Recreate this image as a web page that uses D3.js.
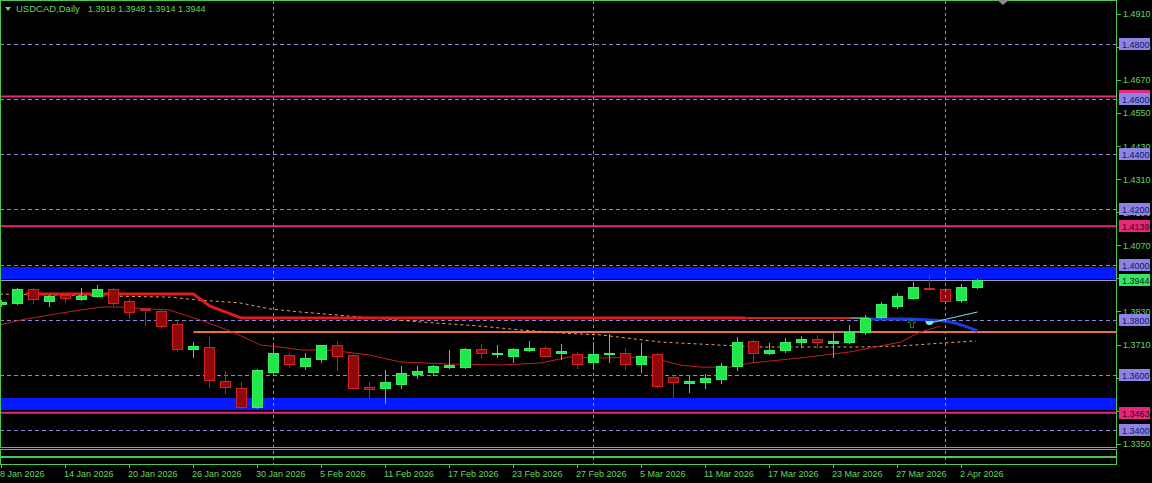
<!DOCTYPE html>
<html><head><meta charset="utf-8">
<script src="https://cdn.jsdelivr.net/npm/d3@7"></script>
<style>html,body{margin:0;padding:0;background:#000;overflow:hidden}</style>
</head><body>
<svg id="c" width="1152" height="483"></svg>
<script>
// ---------------- DATA ----------------
const dates = ["8 Jan 2026","9 Jan 2026","12 Jan 2026","13 Jan 2026","14 Jan 2026","15 Jan 2026","16 Jan 2026",
"19 Jan 2026","20 Jan 2026","21 Jan 2026","22 Jan 2026","23 Jan 2026","26 Jan 2026","27 Jan 2026","28 Jan 2026",
"29 Jan 2026","30 Jan 2026","2 Feb 2026","3 Feb 2026","4 Feb 2026","5 Feb 2026","6 Feb 2026","9 Feb 2026",
"10 Feb 2026","11 Feb 2026","12 Feb 2026","13 Feb 2026","16 Feb 2026","17 Feb 2026","18 Feb 2026","19 Feb 2026",
"20 Feb 2026","23 Feb 2026","24 Feb 2026","25 Feb 2026","26 Feb 2026","27 Feb 2026","2 Mar 2026","3 Mar 2026",
"4 Mar 2026","5 Mar 2026","6 Mar 2026","9 Mar 2026","10 Mar 2026","11 Mar 2026","12 Mar 2026","13 Mar 2026",
"16 Mar 2026","17 Mar 2026","18 Mar 2026","19 Mar 2026","20 Mar 2026","23 Mar 2026","24 Mar 2026","25 Mar 2026",
"26 Mar 2026","27 Mar 2026","30 Mar 2026","31 Mar 2026","1 Apr 2026","2 Apr 2026","3 Apr 2026"];
const opens  = [1.3857,1.3861,1.3911,1.3868,1.3890,1.3875,1.3886,1.3911,1.3868,1.3840,1.3832,1.3784,1.3694,1.3701,1.3578,1.3552,1.3483,1.3610,1.3672,1.3632,1.3657,1.3708,1.3672,1.3557,1.3552,1.3567,1.3603,1.3610,1.3628,1.3628,1.3694,1.3676,1.3668,1.3690,1.3697,1.3681,1.3676,1.3647,1.3677,1.3679,1.3639,1.3676,1.3592,1.3572,1.3574,1.3585,1.3632,1.3723,1.3679,1.3690,1.3719,1.3730,1.3717,1.3719,1.3755,1.3810,1.3850,1.3879,1.3915,1.3911,1.3871,1.3918];
const highs  = [1.3872,1.3914,1.3915,1.3890,1.3893,1.3915,1.3926,1.3915,1.3875,1.3842,1.3839,1.3792,1.3719,1.3737,1.3614,1.3574,1.3621,1.3701,1.3679,1.3679,1.3710,1.3723,1.3676,1.3574,1.3618,1.3632,1.3632,1.3634,1.3690,1.3697,1.3712,1.3708,1.3697,1.3723,1.3705,1.3712,1.3683,1.3719,1.3748,1.3697,1.3716,1.3679,1.3599,1.3596,1.3603,1.3643,1.3737,1.3725,1.3716,1.3734,1.3741,1.3745,1.3752,1.3781,1.3817,1.3864,1.3897,1.3937,1.3962,1.3915,1.3929,1.3948];
const lows   = [1.3850,1.3858,1.3861,1.3850,1.3864,1.3871,1.3882,1.3853,1.3806,1.3781,1.3774,1.3686,1.3665,1.3556,1.3534,1.3478,1.3478,1.3607,1.3628,1.3621,1.3647,1.3618,1.3549,1.3516,1.3498,1.3552,1.3589,1.3599,1.3625,1.3625,1.3661,1.3665,1.3647,1.3686,1.3665,1.3657,1.3625,1.3625,1.3647,1.3621,1.3610,1.3556,1.3520,1.3538,1.3552,1.3570,1.3618,1.3647,1.3677,1.3683,1.3701,1.3697,1.3665,1.3717,1.3748,1.3806,1.3842,1.3875,1.3908,1.3864,1.3864,1.3914];
const closes = [1.3866,1.3911,1.3875,1.3886,1.3879,1.3886,1.3911,1.3861,1.3828,1.3836,1.3777,1.3694,1.3705,1.3581,1.3556,1.3483,1.3618,1.3679,1.3639,1.3661,1.3708,1.3668,1.3552,1.3549,1.3574,1.3607,1.3614,1.3632,1.3636,1.3694,1.3679,1.3679,1.3694,1.3697,1.3668,1.3685,1.3639,1.3676,1.3681,1.3639,1.3668,1.3560,1.3574,1.3576,1.3589,1.3632,1.3719,1.3679,1.3690,1.3719,1.3730,1.3719,1.3721,1.3755,1.3806,1.3857,1.3886,1.3919,1.3910,1.3868,1.3918,1.3944];

const symbolTitle = "USDCAD,Daily";
const priceTicks = [1.4910,1.4790,1.4670,1.4550,1.4430,1.4310,1.4190,1.4070,1.3950,1.3830,1.3710,1.3590,1.3470,1.3350];
const dashedLevels = [1.48,1.46,1.44,1.42,1.40,1.38,1.36,1.34];
const pinkLevels = [1.4610,1.4139,1.3463];
const bandZones = [[1.3992,1.3947],[1.3515,1.3472]];
const bidPrice = 1.3944;
const coralLevel = 1.3755, coralStart = 12;
const monthSeparators = [17,37,59];
const tickEvery = 4;
// indicator lines as [bar index, price]
const thickRedLine = [[1.5,1.3893],[12,1.3893],[13,1.3850],[15,1.3806],[46.5,1.3806]];
const thinRedTail = [[46.5,1.3806],[53,1.3806]];
const whiteSeg = [[53,1.3806],[54.2,1.3806]];
const blueCurve = [[54.3,1.3803],[56.2,1.3803],[58.0,1.3799],[59.3,1.3792],[60.2,1.3777],[61.0,1.3759]];
const cyanLine = [[58.0,1.3788],[61.0,1.3828]];
const dashedMA = [[-0.1,1.3893],[10.5,1.3882],[12.4,1.3871],[14.9,1.3861],[16.8,1.3839],[18.7,1.3828],[22.4,1.3810],[26.2,1.3792],[29.9,1.3777],[32.4,1.3763],[34.9,1.3752],[37.4,1.3745],[41.2,1.3719],[44.9,1.3708],[47.4,1.3701],[53.7,1.3701],[56.2,1.3705],[59.0,1.3716],[60.9,1.3723]];
const thinRedMA = [[-0.1,1.3781],[1.2,1.3799],[3.7,1.3824],[6.2,1.3846],[7.4,1.3846],[10.5,1.3835],[12.4,1.3799],[14.3,1.3759],[16.2,1.3708],[17.4,1.3701],[18.7,1.3690],[20.5,1.3690],[23.0,1.3672],[24.9,1.3647],[28.0,1.3639],[31.2,1.3636],[33.7,1.3643],[35.5,1.3665],[37.4,1.3661],[40.5,1.3665],[42.4,1.3636],[43.7,1.3628],[45.5,1.3628],[46.8,1.3643],[49.9,1.3661],[53.0,1.3683],[56.2,1.3719],[57.4,1.3755],[58.7,1.3777]];
const arrowMark = [56.9,1.3786];
const dotMark = [58.0,1.3795];

// ---------------- DRAW ----------------
const W=1152, H=483, plotR=1116, plotB=447;
const FR='#4cc94c', TXT='#62d862', FONT='"Liberation Sans", Arial, sans-serif';
const x = d3.scaleLinear().domain([0,61]).range([1.5,977.5]);
const y = d3.scaleLinear().domain([1.48,1.34]).range([44,430]);
const svg = d3.select('#c');
svg.append('rect').attr('width',W).attr('height',H).attr('fill','#000');
svg.append('defs').append('clipPath').attr('id','clip').append('rect')
  .attr('x',1).attr('y',1).attr('width',plotR-1).attr('height',plotB-1);
const g = svg.append('g').attr('clip-path','url(#clip)');
const py = v => Math.round(y(v))+0.5;

// bands
g.selectAll('.band').data(bandZones).enter().append('rect')
  .attr('x',0).attr('width',plotR)
  .attr('y',d=>y(d[0])).attr('height',d=>y(d[1])-y(d[0]))
  .attr('fill','#0519ff').attr('shape-rendering','crispEdges');

// dashed lavender levels
g.selectAll('.lvl').data(dashedLevels).enter().append('line')
  .attr('x1',0).attr('x2',plotR).attr('y1',py).attr('y2',py)
  .attr('stroke','#8a86dc').attr('stroke-dasharray','4,3').attr('shape-rendering','crispEdges');

// pink levels
g.selectAll('.pink').data(pinkLevels).enter().append('line')
  .attr('x1',0).attr('x2',plotR).attr('y1',d=>y(d)).attr('y2',d=>y(d))
  .attr('stroke','#e6287a').attr('stroke-width',2);

// bid line
g.append('line').attr('x1',0).attr('x2',plotR).attr('y1',py(bidPrice)).attr('y2',py(bidPrice))
  .attr('stroke','#9a9ab8').attr('shape-rendering','crispEdges');

// coral level
g.append('line').attr('x1',x(coralStart)).attr('x2',plotR).attr('y1',y(coralLevel)).attr('y2',y(coralLevel))
  .attr('stroke','#e8704e').attr('stroke-width',2);

// month separators
svg.selectAll('.sep').data(monthSeparators).enter().append('line')
  .attr('x1',d=>x(d)).attr('x2',d=>x(d)).attr('y1',1).attr('y2',464)
  .attr('stroke',FR).attr('stroke-dasharray','3,3').attr('shape-rendering','crispEdges');

const line = d3.line().x(d=>x(d[0])).y(d=>y(d[1]));
g.append('path').attr('d',line(dashedMA)).attr('fill','none').attr('stroke','#f0a060').attr('stroke-dasharray','3,3');
g.append('path').attr('d',line(thinRedMA)).attr('fill','none').attr('stroke','#c42020').attr('stroke-width',1);
g.append('path').attr('d',line(thickRedLine)).attr('fill','none').attr('stroke','#e01c1c').attr('stroke-width',3);
g.append('path').attr('d',line(thinRedTail)).attr('fill','none').attr('stroke','#e01c1c').attr('stroke-width',2);
g.append('path').attr('d',line(whiteSeg)).attr('fill','none').attr('stroke','#f0f0f0').attr('stroke-width',1);
g.append('path').attr('d',d3.line().curve(d3.curveMonotoneX).x(d=>x(d[0])).y(d=>y(d[1]))(blueCurve))
  .attr('fill','none').attr('stroke','#1c3ce0').attr('stroke-width',3);
g.append('path').attr('d',line(cyanLine)).attr('fill','none').attr('stroke','#7fe2f2').attr('stroke-width',1);
// arrow + dot
g.append('path').attr('transform',`translate(${x(arrowMark[0])},${y(arrowMark[1])})`)
  .attr('d','M0,-5 L4,-1 L1.5,-1 L1.5,4 L-1.5,4 L-1.5,-1 L-4,-1 Z').attr('fill','none').attr('stroke','#1a8a1a');
const dx=x(dotMark[0]), dy=y(dotMark[1]);
g.append('path').attr('d',`M${dx-4},${dy} A4,4 0 0 0 ${dx+4},${dy} Z`).attr('fill','#6ee8f8');

// candles
const bars = closes.map((c,i)=>({i,o:opens[i],h:highs[i],l:lows[i],c}));
const cg = g.append('g');
cg.selectAll('.wick').data(bars).enter().append('line')
  .attr('x1',d=>x(d.i)).attr('x2',d=>x(d.i))
  .attr('y1',d=>Math.round(y(d.h))).attr('y2',d=>Math.round(y(d.l))+1)
  .attr('stroke',d=>d.c>=d.o?'#2ce552':'#c41c1c').attr('shape-rendering','crispEdges');
cg.selectAll('.body').data(bars).enter().append('rect')
  .attr('x',d=>x(d.i)-5).attr('width',10)
  .attr('y',d=>Math.round(y(Math.max(d.o,d.c)))+0.5)
  .attr('height',d=>Math.max(1,Math.round(y(Math.min(d.o,d.c)))-Math.round(y(Math.max(d.o,d.c)))))
  .attr('fill',d=>d.c>=d.o?'#1ee84a':'#8e0a0a')
  .attr('stroke',d=>d.c>=d.o?'#3af060':'#d42222')
  .attr('shape-rendering','crispEdges');

// frames
svg.append('rect').attr('x',0.5).attr('y',0.5).attr('width',plotR).attr('height',plotB-0.5)
  .attr('fill','none').attr('stroke',FR).attr('shape-rendering','crispEdges');
svg.append('rect').attr('x',0.5).attr('y',449.5).attr('width',plotR).attr('height',6.5)
  .attr('fill','none').attr('stroke',FR).attr('shape-rendering','crispEdges');
svg.append('rect').attr('x',0.5).attr('y',457.5).attr('width',plotR).attr('height',6.5)
  .attr('fill','none').attr('stroke',FR).attr('shape-rendering','crispEdges');

// shift marker
svg.append('path').attr('d','M997,0 L1009,0 L1003,5 Z').attr('fill','#8a8a8a');

// title
svg.append('path').attr('d','M5,7 L11,7 L8,11 Z').attr('fill',TXT);
svg.append('text').attr('x',16).attr('y',12).attr('fill',TXT).attr('font-family',FONT).attr('font-size','9.5px').text(symbolTitle);
svg.append('text').attr('x',88).attr('y',12).attr('fill',TXT).attr('font-family',FONT).attr('font-size','9px')
  .text([opens[61],highs[61],lows[61],closes[61]].map(v=>v.toFixed(4)).join(' '));

// right axis ticks
const ax = svg.append('g').attr('font-family',FONT).attr('font-size','9px');
ax.selectAll('.tk').data(priceTicks).enter().append('line')
  .attr('x1',plotR+1).attr('x2',plotR+5).attr('y1',py).attr('y2',py)
  .attr('stroke',FR).attr('shape-rendering','crispEdges');
ax.selectAll('.tl').data(priceTicks).enter().append('text')
  .attr('x',1123).attr('y',d=>y(d)+3.5).attr('fill',TXT).text(d=>d.toFixed(4));

function tag(v, bg, fg){
  const yy = Math.round(y(v));
  ax.append('rect').attr('x',1119).attr('y',yy-6).attr('width',31).attr('height',12).attr('fill',bg);
  ax.append('text').attr('x',1122).attr('y',yy+3.5).attr('fill',fg).text(v.toFixed(4));
}
tag(pinkLevels[0],'#e6287a','#3a0018');
dashedLevels.forEach(v=>tag(v,'#8c84e4','#16165c'));
tag(pinkLevels[1],'#e6287a','#3a0018');
tag(pinkLevels[2],'#e6287a','#3a0018');
tag(bidPrice,'#36e46c','#0a2a10');

// bottom axis
const tickIdx = d3.range(0,dates.length,tickEvery);
svg.selectAll('.bt').data(tickIdx).enter().append('line')
  .attr('x1',d=>x(d)).attr('x2',d=>x(d)).attr('y1',464).attr('y2',468)
  .attr('stroke',FR).attr('shape-rendering','crispEdges');
svg.selectAll('.bl').data(tickIdx).enter().append('text')
  .attr('x',d=>x(d)-1.5).attr('y',477).attr('fill',TXT).attr('font-family',FONT).attr('font-size','9px')
  .text(d=>dates[d]);
</script>
</body></html>
